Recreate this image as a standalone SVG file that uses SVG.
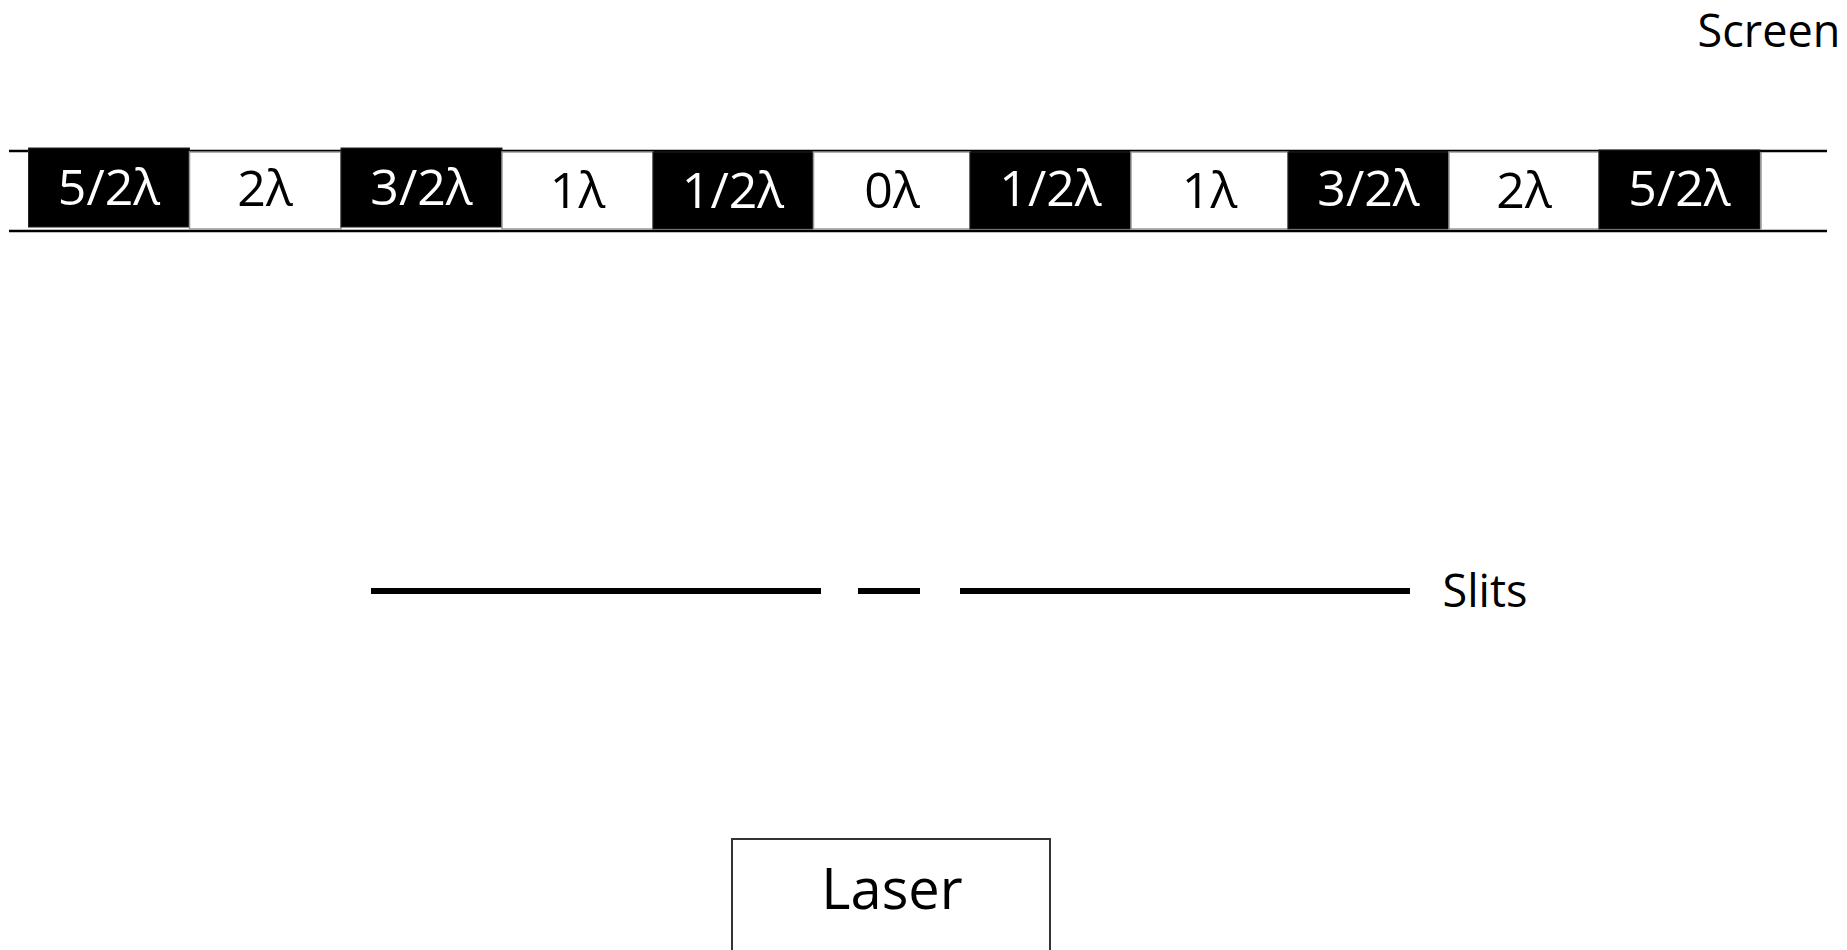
<svg xmlns="http://www.w3.org/2000/svg" width="1847" height="950" viewBox="0 0 1847 950">
<style>
.t{font-family:"Open Sans","Noto Sans","DejaVu Sans",sans-serif;font-size:50px;text-anchor:middle}
.dk{fill:#000;stroke:#222;stroke-width:1}
.lt{fill:#fff;stroke:#999;stroke-width:1.5}
.w{fill:#fff}
.b{fill:#000}
.lbl{font-family:"Open Sans","Noto Sans","DejaVu Sans",sans-serif;font-size:45px;fill:#000}
.big{font-size:56px}
.rule{stroke:#000;stroke-width:2.5}
.slit{stroke:#000;stroke-width:6}
</style>
<rect width="1847" height="950" fill="#fff"/>
<g id="screen-lines">
<line class="rule" x1="9" y1="151" x2="1827" y2="151"/>
<line class="rule" x1="9" y1="231" x2="1827" y2="231"/>
</g>
<g id="band-l5"><rect class="dk" x="28.5" y="148" width="161" height="79"/><text class="t w" x="109" y="205">5/2λ</text></g>
<g id="band-l4"><rect class="lt" x="189.5" y="152" width="151.5" height="77"/><text class="t b" x="265" y="206">2λ</text></g>
<g id="band-l3"><rect class="dk" x="341" y="148" width="161" height="79"/><text class="t w" x="421.5" y="205">3/2λ</text></g>
<g id="band-l2"><rect class="lt" x="502" y="152" width="151" height="77"/><text class="t b" x="577.5" y="208">1λ</text></g>
<g id="band-l1"><rect class="dk" x="653" y="152" width="160.5" height="77"/><text class="t w" x="733" y="208">1/2λ</text></g>
<g id="band-c"><rect class="lt" x="813.5" y="152" width="156.5" height="77"/><text class="t b" x="892" y="208">0λ</text></g>
<g id="band-r1"><rect class="dk" x="970" y="152" width="161" height="77"/><text class="t w" x="1050.5" y="206">1/2λ</text></g>
<g id="band-r2"><rect class="lt" x="1131" y="152" width="157" height="77"/><text class="t b" x="1209.5" y="208">1λ</text></g>
<g id="band-r3"><rect class="dk" x="1288" y="152" width="161" height="77"/><text class="t w" x="1368.5" y="206">3/2λ</text></g>
<g id="band-r4"><rect class="lt" x="1449" y="152" width="150" height="77"/><text class="t b" x="1524" y="208">2λ</text></g>
<g id="band-r5"><rect class="dk" x="1599" y="150" width="161" height="79"/><text class="t w" x="1679.5" y="206">5/2λ</text></g>
<g id="band-r6"><line x1="1761" y1="152" x2="1761" y2="229" stroke="#999" stroke-width="1.5"/></g>
<g id="screen-label"><text class="lbl" x="1769" y="47" text-anchor="middle">Screen</text></g>
<g id="slits">
<line class="slit" x1="371" y1="591" x2="821" y2="591"/>
<line class="slit" x1="858" y1="591" x2="920" y2="591"/>
<line class="slit" x1="960" y1="591" x2="1410" y2="591"/>
<text class="lbl" x="1485" y="607" text-anchor="middle">Slits</text>
</g>
<g id="laser">
<rect x="732" y="839" width="318" height="130" fill="#fff" stroke="#333" stroke-width="2"/>
<text class="lbl big" x="892" y="909" text-anchor="middle">Laser</text>
</g>
<g id="connectors"></g>
</svg>
